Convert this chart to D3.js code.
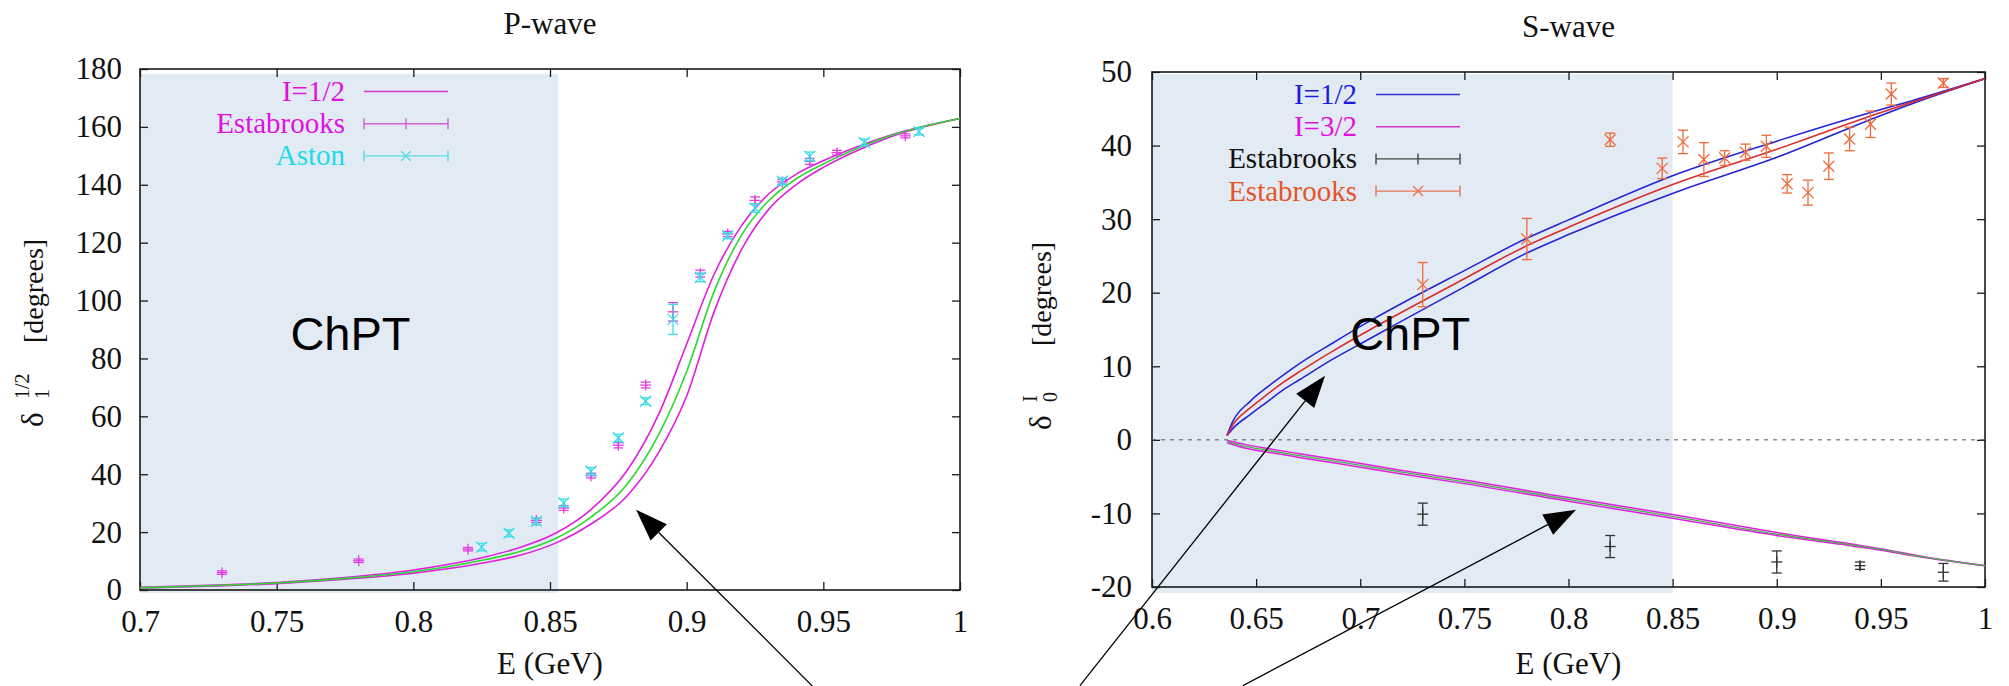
<!DOCTYPE html>
<html>
<head>
<meta charset="utf-8">
<script src="https://cdn.jsdelivr.net/npm/d3@7"></script>
<style>
  html, body { margin: 0; padding: 0; background: #fff; }
  svg { display: block; }
</style>
</head>
<body>
<svg id="fig" width="2009" height="686"></svg>
<script>
// ---------------- P-wave, I=1/2 ----------------
const pCurveE   = [0.70, 0.725, 0.75, 0.775, 0.80, 0.813, 0.827, 0.839, 0.852, 0.865, 0.878, 0.89, 0.90, 0.91, 0.92, 0.93, 0.94, 0.95, 0.96, 0.975, 1.0];
const pUpper    = [0.9, 1.6, 2.6, 4.3, 6.9, 8.9, 11.6, 14.7, 19.6, 27.8, 41.0, 61.2, 85.0, 109.0, 125.8, 136.8, 143.6, 148.3, 152.3, 157.3, 162.9];
const pCentral  = [0.75, 1.45, 2.4, 4.0, 6.3, 8.1, 10.6, 13.3, 17.8, 25.2, 36.3, 54.1, 75.5, 103.0, 122.5, 134.5, 142.0, 147.2, 151.6, 157.1, 162.9];
const pLower    = [0.6, 1.3, 2.2, 3.7, 5.8, 7.4, 9.6, 12.0, 16.2, 22.8, 32.3, 47.9, 67.0, 96.0, 117.5, 131.5, 140.0, 146.0, 150.8, 156.7, 162.9];

const pEstabE   = [0.73, 0.78, 0.82, 0.845, 0.855, 0.865, 0.875, 0.885, 0.895, 0.905, 0.915, 0.925, 0.935, 0.945, 0.955, 0.98];
const pEstabVal = [6.0, 10.1, 14.1, 24.0, 28.3, 39.5, 50.0, 70.8, 96.1, 109.3, 123.0, 134.6, 141.0, 148.1, 151.1, 156.9];
const pEstabErr = [0.6, 0.6, 0.6, 0.7, 0.8, 0.8, 0.9, 1.0, 3.2, 1.2, 0.9, 1.2, 0.8, 1.0, 0.8, 0.7];

const pAstonE   = [0.825, 0.835, 0.845, 0.855, 0.865, 0.875, 0.885, 0.895, 0.905, 0.915, 0.925, 0.935, 0.945, 0.965, 0.985];
const pAstonVal = [14.8, 19.6, 23.7, 30.1, 41.0, 52.5, 65.2, 93.5, 108.0, 122.4, 132.0, 141.2, 149.8, 154.6, 158.4];
const pAstonErr = [1.3, 1.2, 1.2, 1.3, 1.3, 1.3, 1.2, 5.2, 1.5, 1.0, 1.5, 1.2, 1.5, 1.2, 1.2];

const pXTicks = [0.7, 0.75, 0.8, 0.85, 0.9, 0.95, 1];
const pYTicks = [0, 20, 40, 60, 80, 100, 120, 140, 160, 180];

// ---------------- S-wave, I=1/2 and I=3/2 ----------------
const sHalfE     = [0.636, 0.639, 0.647, 0.655, 0.663, 0.671, 0.687, 0.703, 0.719, 0.75, 0.78, 0.80, 0.85, 0.90, 0.95, 0.965, 1.0];
const sHalfUpper = [0.6, 2.6, 5.2, 7.1, 8.8, 10.4, 13.2, 15.9, 18.4, 23.0, 27.4, 29.9, 35.9, 40.6, 44.9, 46.1, 49.1];
const sHalfMid   = [0.6, 2.1, 4.3, 6.1, 7.8, 9.3, 12.1, 14.7, 17.2, 21.9, 26.4, 28.9, 34.7, 39.5, 44.5, 45.9, 49.1];
const sHalfLower = [0.6, 1.6, 3.4, 5.1, 6.8, 8.2, 11.0, 13.5, 16.0, 20.8, 25.4, 27.9, 33.5, 38.4, 44.1, 45.7, 49.1];

const s32E     = [0.636, 0.645, 0.655, 0.67, 0.69, 0.72, 0.75, 0.80, 0.85, 0.90, 0.95, 0.97, 1.0];
const s32Upper = [-0.1, -0.65, -1.15, -1.85, -2.75, -4.15, -5.45, -7.85, -10.15, -12.6, -14.8, -15.85, -17.1];
const s32Mid   = [-0.25, -0.9, -1.4, -2.1, -3.0, -4.4, -5.7, -8.1, -10.4, -12.8, -14.9, -15.9, -17.1];
const s32Lower = [-0.4, -1.15, -1.65, -2.35, -3.25, -4.65, -5.95, -8.35, -10.65, -13.0, -15.0, -15.95, -17.1];

const sEstabHalfE   = [0.73, 0.78, 0.82, 0.845, 0.855, 0.865, 0.875, 0.885, 0.895, 0.905, 0.915, 0.925, 0.935, 0.945, 0.955, 0.98];
const sEstabHalfVal = [21.1, 27.3, 40.8, 36.9, 40.5, 38.1, 38.3, 39.1, 39.9, 34.8, 33.6, 37.2, 40.9, 42.9, 47.0, 48.5];
const sEstabHalfErr = [3.0, 2.8, 0.9, 1.4, 1.6, 2.3, 1.0, 1.1, 1.5, 1.25, 1.7, 1.8, 1.6, 1.8, 1.5, 0.6];

const sEstab32E   = [0.73, 0.82, 0.90, 0.94, 0.98];
const sEstab32Val = [-10.1, -14.5, -16.6, -17.1, -18.0];
const sEstab32Err = [1.5, 1.5, 1.5, 0.5, 1.2];

const sXTicks = [0.6, 0.65, 0.7, 0.75, 0.8, 0.85, 0.9, 0.95, 1];
const sYTicks = [-20, -10, 0, 10, 20, 30, 40, 50];

// ---------------- drawing ----------------
const W = 2009, H = 686;
const serif = "'Liberation Serif', 'Times New Roman', Times, serif";
const sans  = "'Liberation Sans', Arial, Helvetica, sans-serif";
const FS = 31;       // tick labels, titles, axis labels
const LEG_FS = 29;   // legend entries
const LEG_STEP = 32.2;

const COL = {
  magenta: '#e01ee0', green: '#2ed82e', cyan: '#2cd9e2', blue: '#2424d6',
  red: '#dc2b2b', orange: '#ef6a3c', shade: '#e2ebf4', frame: '#1a1a1a'
};

const svg = d3.select('#fig');
svg.append('rect').attr('width', W).attr('height', H).attr('fill', '#fff');

const zip = (xs, ys) => xs.map((x, i) => [x, ys[i]]);

function drawPanel(p) {
  const g = svg.append('g');
  const [xl, xr] = p.x.range();
  const [yb, yt] = p.y.range();

  // ChPT region
  g.append('rect')
    .attr('x', p.x(p.shadeX[0])).attr('y', p.y(p.shadeY[1]))
    .attr('width', p.x(p.shadeX[1]) - p.x(p.shadeX[0]))
    .attr('height', p.y(p.shadeY[0]) - p.y(p.shadeY[1]))
    .attr('fill', COL.shade);

  const clipId = 'clip-' + p.id;
  g.append('clipPath').attr('id', clipId).append('rect')
    .attr('x', xl).attr('y', yt).attr('width', xr - xl).attr('height', yb - yt);

  // axes with inward ticks, mirrored on top/right
  const styleAxis = (sel, withText) => {
    sel.select('.domain').remove();
    sel.selectAll('line').attr('stroke', COL.frame).attr('stroke-width', 1.3);
    if (withText) sel.selectAll('text').attr('font-family', serif).attr('font-size', FS).attr('fill', '#111');
  };
  g.append('g').attr('transform', `translate(0,${yb})`)
    .call(d3.axisBottom(p.x).tickValues(p.xTicks).tickFormat(d => String(d)).tickSizeInner(-8).tickSizeOuter(0).tickPadding(20))
    .call(s => styleAxis(s, true));
  g.append('g').attr('transform', `translate(0,${yt})`)
    .call(d3.axisTop(p.x).tickValues(p.xTicks).tickFormat('').tickSizeInner(-8).tickSizeOuter(0))
    .call(s => styleAxis(s, false));
  g.append('g').attr('transform', `translate(${xl},0)`)
    .call(d3.axisLeft(p.y).tickValues(p.yTicks).tickFormat(d => String(d)).tickSizeInner(-8).tickSizeOuter(0).tickPadding(p.yPad))
    .call(s => styleAxis(s, true));
  g.append('g').attr('transform', `translate(${xr},0)`)
    .call(d3.axisRight(p.y).tickValues(p.yTicks).tickFormat('').tickSizeInner(-8).tickSizeOuter(0))
    .call(s => styleAxis(s, false));

  g.append('rect').attr('x', xl).attr('y', yt).attr('width', xr - xl).attr('height', yb - yt)
    .attr('fill', 'none').attr('stroke', COL.frame).attr('stroke-width', 1.6);

  const plot = g.append('g').attr('clip-path', `url(#${clipId})`);

  // title and x label
  g.append('text').attr('x', (xl + xr) / 2).attr('y', p.titleY).attr('text-anchor', 'middle')
    .attr('font-family', serif).attr('font-size', FS).attr('fill', '#111').text(p.title);
  g.append('text').attr('x', (xl + xr) / 2).attr('y', 674).attr('text-anchor', 'middle')
    .attr('font-family', serif).attr('font-size', FS).attr('fill', '#111').text('E (GeV)');

  // ChPT label
  g.append('text').attr('x', p.x(p.chpt[0])).attr('y', p.y(p.chpt[1])).attr('text-anchor', 'middle')
    .attr('font-family', sans).attr('font-size', 47).attr('fill', '#000').text('ChPT');

  return { g, plot };
}

function drawCurve(layer, x, y, xs, ys, color, width) {
  const line = d3.line().x(d => x(d[0])).y(d => y(d[1])).curve(d3.curveMonotoneX);
  layer.append('path').datum(zip(xs, ys)).attr('d', line)
    .attr('fill', 'none').attr('stroke', color).attr('stroke-width', width || 1.6)
    .attr('stroke-linejoin', 'round');
}

function drawErrorPoints(layer, x, y, xs, vs, errs, color, marker) {
  const cap = 5, m = 5.5;
  const g = layer.append('g').attr('stroke', color).attr('stroke-width', 1.3).attr('fill', 'none');
  xs.forEach((e, i) => {
    const cx = x(e), cy = y(vs[i]);
    const y1 = y(vs[i] + errs[i]), y2 = y(vs[i] - errs[i]);
    g.append('line').attr('x1', cx).attr('x2', cx).attr('y1', y1).attr('y2', y2);
    g.append('line').attr('x1', cx - cap).attr('x2', cx + cap).attr('y1', y1).attr('y2', y1);
    g.append('line').attr('x1', cx - cap).attr('x2', cx + cap).attr('y1', y2).attr('y2', y2);
    if (marker === 'plus') {
      g.append('line').attr('x1', cx - m).attr('x2', cx + m).attr('y1', cy).attr('y2', cy);
      g.append('line').attr('x1', cx).attr('x2', cx).attr('y1', cy - m).attr('y2', cy + m);
    } else {
      g.append('line').attr('x1', cx - m).attr('x2', cx + m).attr('y1', cy - m).attr('y2', cy + m);
      g.append('line').attr('x1', cx - m).attr('x2', cx + m).attr('y1', cy + m).attr('y2', cy - m);
    }
  });
}

function drawLegend(g, x0, y0, items) {
  items.forEach((it, i) => {
    const ry = y0 + 22.5 + i * LEG_STEP;
    g.append('text').attr('x', x0 + 205).attr('y', ry + 9.5).attr('text-anchor', 'end')
      .attr('font-family', serif).attr('font-size', LEG_FS).attr('fill', it.textColor).text(it.label);
    const s = g.append('g').attr('stroke', it.color).attr('stroke-width', 1.4).attr('fill', 'none');
    const a = x0 + 224, b = x0 + 308, c = (a + b) / 2;
    s.append('line').attr('x1', a).attr('x2', b).attr('y1', ry).attr('y2', ry);
    if (it.kind !== 'line') {
      s.append('line').attr('x1', a).attr('x2', a).attr('y1', ry - 5.5).attr('y2', ry + 5.5);
      s.append('line').attr('x1', b).attr('x2', b).attr('y1', ry - 5.5).attr('y2', ry + 5.5);
      if (it.kind === 'plus') {
        s.append('line').attr('x1', c).attr('x2', c).attr('y1', ry - 5.5).attr('y2', ry + 5.5);
      } else {
        s.append('line').attr('x1', c - 5).attr('x2', c + 5).attr('y1', ry - 5).attr('y2', ry + 5);
        s.append('line').attr('x1', c - 5).attr('x2', c + 5).attr('y1', ry + 5).attr('y2', ry - 5);
      }
    }
  });
}

function drawYLabel(xBase, yStart, sub, sup) {
  const g = svg.append('g').attr('transform', `translate(${xBase},${yStart}) rotate(-90)`)
    .attr('font-family', serif).attr('fill', '#111');
  g.append('text').attr('x', 0).attr('y', 0).attr('font-size', 31).text('δ');
  g.append('text').attr('x', 28).attr('y', -14).attr('font-size', 20).text(sup);
  g.append('text').attr('x', 28).attr('y', 6).attr('font-size', 20).text(sub);
  g.append('text').attr('x', 84).attr('y', 0).attr('font-size', 28).text('[degrees]');
}

function drawArrow(x, y, from, to) {
  const x1 = x(from[0]), y1 = y(from[1]), x2 = x(to[0]), y2 = y(to[1]);
  const dx = x2 - x1, dy = y2 - y1, len = Math.hypot(dx, dy);
  const ux = dx / len, uy = dy / len, L = 32, hw = 11.5;
  const bx = x2 - ux * L, by = y2 - uy * L;
  svg.append('line').attr('x1', x1).attr('y1', y1).attr('x2', bx).attr('y2', by)
    .attr('stroke', '#000').attr('stroke-width', 1.3);
  svg.append('polygon')
    .attr('points', [[x2, y2], [bx - uy * hw, by + ux * hw], [bx + uy * hw, by - ux * hw]].map(p => p.join(',')).join(' '))
    .attr('fill', '#000');
}

// ---- P-wave panel ----
const xP = d3.scaleLinear().domain([0.7, 1.0]).range([140, 960]);
const yP = d3.scaleLinear().domain([0, 180]).range([590, 69]);
const P = drawPanel({
  id: 'p', x: xP, y: yP, xTicks: pXTicks, yTicks: pYTicks, yPad: 18,
  shadeX: [0.7, 0.853], shadeY: [-1.0, 178.3], title: 'P-wave', titleY: 34, chpt: [0.777, 83]
});
drawCurve(P.plot, xP, yP, pCurveE, pUpper, COL.magenta);
drawCurve(P.plot, xP, yP, pCurveE, pLower, COL.magenta);
drawCurve(P.plot, xP, yP, pCurveE, pCentral, COL.green);
drawErrorPoints(P.plot, xP, yP, pEstabE, pEstabVal, pEstabErr, '#e040e0', 'plus');
drawErrorPoints(P.plot, xP, yP, pAstonE, pAstonVal, pAstonErr, '#3cdce6', 'cross');
drawLegend(P.g, 140, 69, [
  { label: 'I=1/2', textColor: '#e010e0', color: '#d436d4', kind: 'line' },
  { label: 'Estabrooks', textColor: '#e010e0', color: '#d460d4', kind: 'plus' },
  { label: 'Aston', textColor: '#1fdbe6', color: '#5cdbe4', kind: 'cross' }
]);
drawYLabel(43, 427, '1', '1/2');

// ---- S-wave panel ----
const xS = d3.scaleLinear().domain([0.6, 1.0]).range([1152, 1985]);
const yS = d3.scaleLinear().domain([-20, 50]).range([587, 72]);
const S = drawPanel({
  id: 's', x: xS, y: yS, xTicks: sXTicks, yTicks: sYTicks, yPad: 20,
  shadeX: [0.6, 0.85], shadeY: [-20.8, 49.7], title: 'S-wave', titleY: 37, chpt: [0.724, 12.2]
});
S.plot.append('line').attr('x1', xS(0.6)).attr('x2', xS(1.0)).attr('y1', yS(0)).attr('y2', yS(0))
  .attr('stroke', '#555').attr('stroke-width', 1).attr('stroke-dasharray', '4,5');
drawCurve(S.plot, xS, yS, s32E, s32Upper, COL.magenta, 1.5);
drawCurve(S.plot, xS, yS, s32E, s32Lower, COL.magenta, 1.5);
drawCurve(S.plot, xS, yS, s32E, s32Mid, '#4caf4c', 1.3);
drawCurve(S.plot, xS, yS, sHalfE, sHalfUpper, COL.blue);
drawCurve(S.plot, xS, yS, sHalfE, sHalfLower, COL.blue);
drawCurve(S.plot, xS, yS, sHalfE, sHalfMid, COL.red);
drawErrorPoints(S.plot, xS, yS, sEstab32E, sEstab32Val, sEstab32Err, '#333', 'plus');
drawErrorPoints(S.plot, xS, yS, sEstabHalfE, sEstabHalfVal, sEstabHalfErr, COL.orange, 'cross');
drawLegend(S.g, 1152, 72, [
  { label: 'I=1/2', textColor: '#1c1ce0', color: '#3434d2', kind: 'line' },
  { label: 'I=3/2', textColor: '#e010e0', color: '#d436d4', kind: 'line' },
  { label: 'Estabrooks', textColor: '#111', color: '#444', kind: 'plus' },
  { label: 'Estabrooks', textColor: '#e4552a', color: '#ea7450', kind: 'cross' }
]);
drawYLabel(1051, 430, '0', 'I');

// ---- pointer arrows ----
drawArrow(xP, yP, [0.946, -33.2], [0.8815, 27.7]);
drawArrow(xS, yS, [0.5654, -33.4], [0.6831, 8.7]);
drawArrow(xS, yS, [0.6437, -33.4], [0.8036, -9.5]);
</script>
</body>
</html>
